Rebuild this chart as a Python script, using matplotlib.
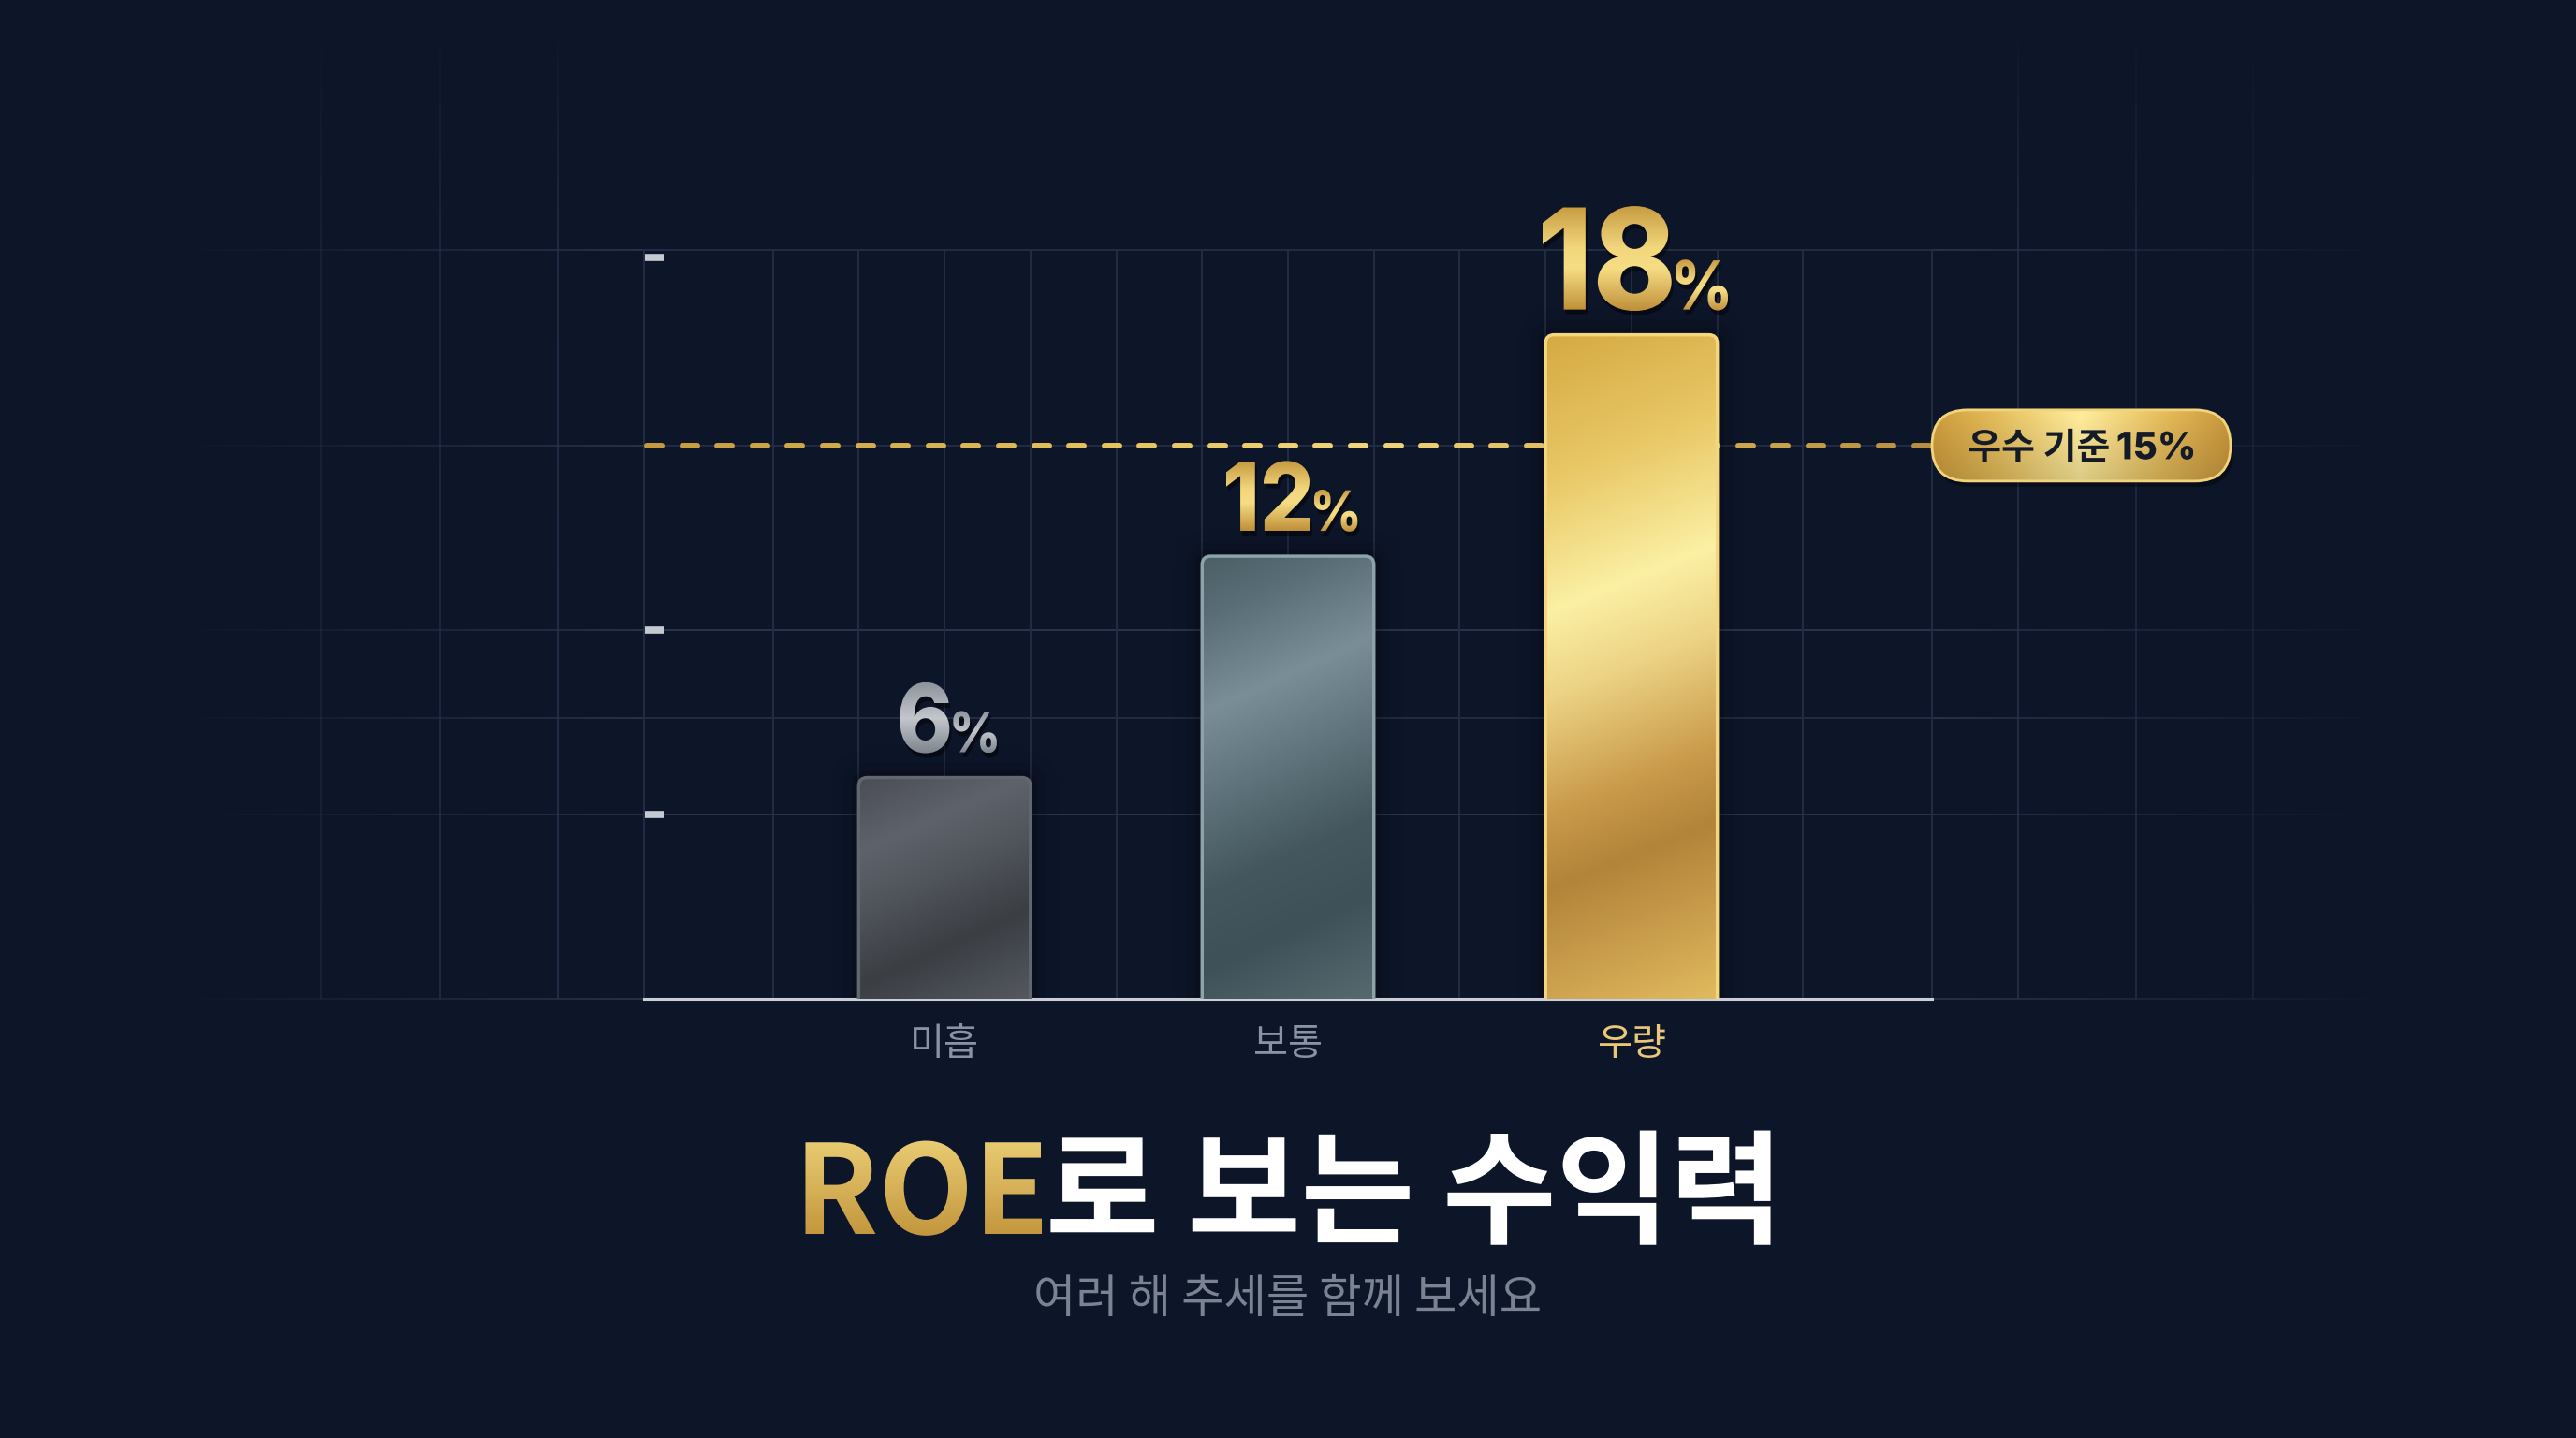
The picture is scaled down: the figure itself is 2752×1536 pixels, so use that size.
import numpy as np
import matplotlib
matplotlib.use('Agg')
import matplotlib.pyplot as plt
from matplotlib.patches import FancyBboxPatch, PathPatch
from matplotlib.textpath import TextPath
from matplotlib.font_manager import FontProperties
from matplotlib.colors import LinearSegmentedColormap, to_rgba
from matplotlib.collections import LineCollection
from matplotlib.transforms import Affine2D

# data
categories = ['미흡', '보통', '우량']
roe = [6, 12, 18]
benchmark = 15
benchmark_text = '우수 기준'
benchmark_value = '15%'
title_accent = 'ROE'
title_rest = '로 보는 수익력'
subtitle = '여러 해 추세를 함께 보세요'

W, H, DPI = 2752, 1536, 100
BG = '#0d1529'
GRID = '#222c42'
KR = 'Noto Sans CJK KR'
NUM = 'Inter'

fig = plt.figure(figsize=(W / DPI, H / DPI), dpi=DPI, facecolor=BG)

# background layer (pixel coords) for the faded grid outside the plot
bg = fig.add_axes([0, 0, 1, 1], zorder=0)
bg.set_xlim(0, W)
bg.set_ylim(0, H)
bg.axis('off')
bg.set_autoscale_on(False)

ax = fig.add_axes([0.25, 469 / H, 0.5, 800 / H], zorder=1)
ax.set_xlim(-0.875, 2.875)
ax.set_ylim(0, 20.3)
ax.set_autoscale_on(False)
ax.patch.set_alpha(0)

# overlay layer (pixel coords) for labels, badge and titles
ov = fig.add_axes([0, 0, 1, 1], zorder=2)
ov.set_xlim(0, W)
ov.set_ylim(0, H)
ov.axis('off')
ov.set_autoscale_on(False)

PXX = 0.5 * W / 3.75
PXY = 800 / 20.3
ASPECT = PXX / PXY


def faded(axx, x0, y0, x1, y1, color, lw, a0, a1, n=80, z=1):
    t = np.linspace(0, 1, n + 1)
    xs = x0 + (x1 - x0) * t
    ys = y0 + (y1 - y0) * t
    segs = [[(xs[k], ys[k]), (xs[k + 1], ys[k + 1])] for k in range(n)]
    rgba = np.array([to_rgba(color)] * n)
    rgba[:, 3] = a0 + (a1 - a0) * (t[:-1] + t[1:]) / 2
    axx.add_collection(LineCollection(segs, colors=rgba, linewidths=lw, zorder=z))


# grid inside the plot
for y in [5, 7.6, 10, 15]:
    ax.axhline(y, color='#2a354d' if y in (5, 10) else GRID, lw=1.4, zorder=1)
for x in np.arange(-0.5, 2.51, 0.25):
    ax.axvline(x, color=GRID, lw=1.4, zorder=1)

for side in ['top', 'left', 'right']:
    ax.spines[side].set_color(GRID)
    ax.spines[side].set_linewidth(1.4)
ax.spines['bottom'].set_color('#c9ced6')
ax.spines['bottom'].set_linewidth(2.2)

ax.set_yticks([5, 10, 20.1])
ax.tick_params(axis='y', direction='in', length=15, width=5.5, colors='#c5cad2', labelleft=False)
ax.yaxis.get_major_ticks()[2].tick1line.set_color('#6c7380')
ax.set_xticks([])

# faded grid outside the plot
x_left = ax.transData.transform((-0.875, 0))[0]
x_right = ax.transData.transform((2.875, 0))[0]
base_py = ax.transData.transform((0, 0))[1]
top_py = ax.transData.transform((0, 20.3))[1]
for y in [0, 5, 7.6, 10, 15, 20.3]:
    py = ax.transData.transform((0, y))[1]
    faded(bg, x_left, py, 180, py, '#26314a', 1.4, 1.0, 0.0)
    faded(bg, x_right, py, 2560, py, '#26314a', 1.4, 1.0, 0.0)
for xp, a in [(596, 0.9), (470, 0.7), (343, 0.45), (2156, 0.9), (2282, 0.7), (2407, 0.45)]:
    faded(bg, xp, base_py, xp, top_py, '#26314a', 1.4, a, a * 0.85)
    faded(bg, xp, top_py, xp, H - 20, '#26314a', 1.4, a * 0.85, 0.0)

# bars
bar_stops = [
    [(0, '#4a4d55'), (0.25, '#5e626a'), (0.45, '#50545b'), (0.7, '#3b3f44'), (0.85, '#474b52'), (1, '#55585f')],
    [(0, '#4b5f67'), (0.12, '#5a6e77'), (0.3, '#7a8e97'), (0.42, '#667b84'), (0.65, '#44575e'), (0.8, '#3f5158'), (1, '#56696f')],
    [(0, '#d5aa43'), (0.2, '#e9c866'), (0.38, '#fbf0a4'), (0.5, '#ecd284'), (0.66, '#c99a4a'), (0.76, '#b2843a'), (0.9, '#cda24f'), (1, '#e0ba5e')],
]
bar_edges = ['#62666e', '#8da3aa', '#f3d67e']
bar_slopes = [0.45, 0.45, 0.4]

for i, v in enumerate(roe):
    w = 0.5
    x0 = i - w / 2
    for pad, al in [(0.02, 0.12), (0.045, 0.07), (0.08, 0.04)]:
        ax.add_patch(FancyBboxPatch((x0 - pad, -1), w + 2 * pad, v + 1 + pad * ASPECT,
                                    boxstyle=f'round,pad=0,rounding_size={0.03 + pad}',
                                    mutation_aspect=ASPECT, fc='black', ec='none', alpha=al, zorder=2))
    patch = FancyBboxPatch((x0, -1), w, v + 1, boxstyle='round,pad=0,rounding_size=0.025',
                           mutation_aspect=ASPECT, fc='none', ec=bar_edges[i], lw=2.5, zorder=4)
    ax.add_patch(patch)
    u = np.linspace(0, 1, 80)[None, :]
    vv = np.linspace(0, 1, 400)[:, None]
    s = vv * v * PXY + bar_slopes[i] * u * w * PXX
    s = (s - s.min()) / (s.max() - s.min())
    cmap = LinearSegmentedColormap.from_list(f'bar{i}', bar_stops[i])
    im = ax.imshow(cmap(s), extent=(x0, x0 + w, 0, v), origin='upper', aspect='auto',
                   interpolation='bilinear', zorder=3)
    im.set_clip_path(patch)

# benchmark dashed line
dash_stops = [(0, '#c49a40'), (0.35, '#e6c25e'), (0.55, '#f2d57a'), (0.8, '#d4ae52'), (1, '#b58c3e')]
xs0, xs1 = ax.get_xlim()
period = 37.6 / PXX
on = 16 / PXX
starts = np.arange(xs0 + 3 / PXX, xs1 - on, period)
dcm = LinearSegmentedColormap.from_list('dash', dash_stops)
segs = [[(s0, benchmark), (s0 + on, benchmark)] for s0 in starts]
ax.add_collection(LineCollection(segs, colors=dcm((starts - xs0) / (xs1 - xs0)), linewidths=4.3,
                                 capstyle='round', zorder=2.6))

# category labels
cat_colors = ['#8a93a3', '#8a93a3', '#e8c878']
for i, c in enumerate(categories):
    ax.annotate(c, (i, 0), xytext=(0, -49 * 72 / DPI), textcoords='offset points', ha='center', va='center',
                fontsize=29, family=KR, color=cat_colors[i], annotation_clip=False)


def make_path(s, size_pt, prop, sx=1.0):
    tp = TextPath((0, 0), s, size=size_pt * DPI / 72, prop=prop)
    return Affine2D().scale(sx, 1).transform_path(tp)


def put(path, x_ink_left, baseline):
    ext = path.get_extents()
    return Affine2D().translate(x_ink_left - ext.x0, baseline).transform_path(path)


def grad_fill(path, stops, z=5, shadow=True):
    if shadow:
        sh = PathPatch(Affine2D().translate(2, -5).transform_path(path), fc='black', ec='none',
                       alpha=0.45, zorder=z - 0.5)
        ov.add_patch(sh)
    patch = PathPatch(path, fc='none', ec='none', zorder=z)
    ov.add_patch(patch)
    ext = path.get_extents()
    cmap = LinearSegmentedColormap.from_list('t', stops)
    arr = cmap(np.linspace(0, 1, 256))[:, None, :]
    im = ov.imshow(arr, extent=(ext.x0, ext.x1, ext.y0, ext.y1), origin='upper', aspect='auto', zorder=z)
    im.set_clip_path(patch)


# value labels
fp_num = FontProperties(family=NUM, weight='heavy')
silver = [(0, '#8d939c'), (0.5, '#c3c7cc'), (1, '#7d838c')]
gold = [(0, '#c69a3f'), (0.4, '#f2d67c'), (0.6, '#f6dd84'), (1, '#bf8f38')]
label_sizes = [(73, 43, silver), (73, 43, gold), (108, 52, gold)]
SX = 0.9
for i, v in enumerate(roe):
    nsz, psz, stops = label_sizes[i]
    px, py = ax.transData.transform((i, v))
    base = py + 27
    pn = make_path(str(v), nsz, fp_num, SX)
    pp = make_path('%', psz, fp_num, SX)
    wn = pn.get_extents().width
    wp = pp.get_extents().width
    gap = 4
    left = px + 4 - (wn + gap + wp) / 2
    grad_fill(put(pn, left, base), stops)
    grad_fill(put(pp, left + wn + gap, base), stops)

# benchmark badge
bx, by = ax.transData.transform((2.875, benchmark))
bw, bh = 319, 76
ov.add_patch(FancyBboxPatch((bx + 3, by - bh / 2 - 6), bw, bh, boxstyle=f'round,pad=0,rounding_size={bh / 2}',
                            fc='black', ec='none', alpha=0.35, zorder=5))
badge = FancyBboxPatch((bx, by - bh / 2), bw, bh, boxstyle=f'round,pad=0,rounding_size={bh / 2}',
                       fc='none', ec='#f2d47c', lw=2, zorder=6.5)
ov.add_patch(badge)
badge_stops = [(0, '#c8983a'), (0.2, '#dcb556'), (0.5, '#f8e698'), (0.8, '#dcb254'), (1, '#c4933a')]
bcm = LinearSegmentedColormap.from_list('badge', badge_stops)
u = np.linspace(0, 1, 200)[None, :]
vv = np.linspace(0, 1, 60)[:, None]
barr = bcm(np.repeat(u, 60, axis=0))
barr[..., :3] *= (1.04 - 0.16 * vv)[..., None]
barr = np.clip(barr, 0, 1)
bim = ov.imshow(barr, extent=(bx, bx + bw, by - bh / 2, by + bh / 2), origin='upper', aspect='auto', zorder=6)
bim.set_clip_path(badge)

p1 = make_path(benchmark_text, 28, FontProperties(family=KR, weight='bold'))
p2 = make_path(benchmark_value, 29, FontProperties(family=NUM, weight='heavy'))
w1 = p1.get_extents().width
w2 = p2.get_extents().width
e1 = p1.get_extents()
tleft = bx + bw / 2 - (w1 + 10 + w2) / 2
tbase = by - (e1.y0 + e1.y1) / 2
ov.add_patch(PathPatch(put(p1, tleft, tbase), fc='#141a27', ec='none', zorder=7))
ov.add_patch(PathPatch(put(p2, tleft + w1 + 10, tbase), fc='#141a27', ec='none', zorder=7))

# title
fp_title = FontProperties(family=KR, weight='black')
ta = make_path(title_accent, 95, fp_title)
tr = make_path(title_rest, 95, fp_title)
wa = ta.get_extents().width
wr = tr.get_extents().width
tl = W / 2 - (wa + 9 + wr) / 2
grad_fill(put(ta, tl, 218), [(0, '#e9cc72'), (1, '#c3963d')], z=5, shadow=False)
ov.add_patch(PathPatch(put(tr, tl + wa + 9, 218), fc='white', ec='none', zorder=5))

ov.text(W / 2, 148, subtitle, ha='center', va='center', fontsize=35.5, family=KR, color='#7b8291')

fig.savefig('out.png', dpi=DPI, facecolor=BG)
